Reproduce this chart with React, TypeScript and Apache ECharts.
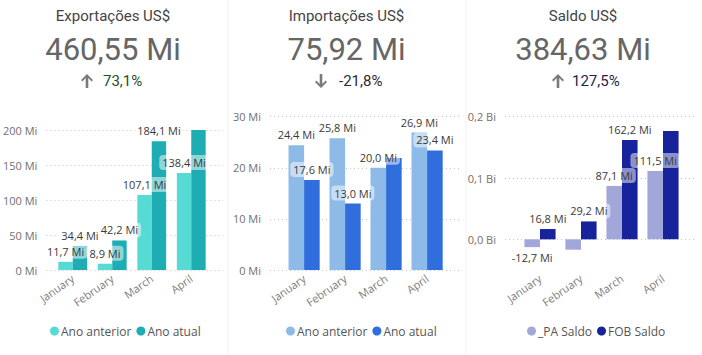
import React, { useEffect, useRef } from 'react';
import * as echarts from 'echarts';

const months = ['January', 'February', 'March', 'April'];

const expPrev = [11.7, 8.9, 107.1, 138.4];
const expCurr = [34.4, 42.2, 184.1, 199.9];
const impPrev = [24.4, 25.8, 20.0, 26.9];
const impCurr = [17.6, 13.0, 21.9, 23.4];
const salPrev = [-12.7, -16.9, 87.1, 111.5];
const salCurr = [16.8, 29.2, 162.2, 176.5];

const expNames = ['Ano anterior', 'Ano atual'];
const impNames = ['Ano anterior', 'Ano atual'];
const salNames = ['_PA Saldo', 'FOB Saldo'];

const kpiTitles = ['Exportações US$', 'Importações US$', 'Saldo US$'];
const kpiValues = ['460,55 Mi', '75,92 Mi', '384,63 Mi'];
const kpiChanges = ['73,1%', '-21,8%', '127,5%'];
const kpiUp = [true, false, true];

// indices of data labels that are not drawn (overlap hidden)
const expHidden = [[], [3]];
const impHidden = [[], [2]];
const salHidden = [[1], [3]];

const fmtMi = (v: number) => v.toFixed(1).replace('.', ',') + ' Mi';

const FONT = "'Open Sans', 'Noto Sans', sans-serif";
const KPI_FONT = "Roboto, 'Noto Sans', sans-serif";

const panels = [
  {
    prev: expPrev, curr: expCurr, names: expNames, hidden: expHidden,
    colors: ['#55DBD3', '#1EADB3'], min: 0, max: 200, interval: 50,
    axisFmt: (v: number) => v + ' Mi',
    outerLeft: 43, outerWidth: 180, barLeft: 53, barWidth: 158, top: 130, bottom: 270,
    gap: '27%', legendLeft: 45, cx: 113, pctColor: '#1d4d2c', arrowX: 87, pctX: 103,
    splitColor: '#c4c4c4',
  },
  {
    prev: impPrev, curr: impCurr, names: impNames, hidden: impHidden,
    colors: ['#8DBAE6', '#2F6EDC'], min: 0, max: 30, interval: 10,
    axisFmt: (v: number) => v + ' Mi',
    outerLeft: 270, outerWidth: 191, barLeft: 283.6, barWidth: 164, top: 116.7, bottom: 270,
    gap: '24%', legendLeft: 281, cx: 346.5, pctColor: '#2a2a38', arrowX: 321, pctX: 339,
    splitColor: '#c4c4c4',
  },
  {
    prev: salPrev, curr: salCurr, names: salNames, hidden: salHidden,
    colors: ['#A2A7DA', '#17239A'], min: -50, max: 200, interval: 50,
    axisFmt: (v: number) => (v % 100 === 0 ? (v / 1000).toFixed(1).replace('.', ',') + ' Bi' : ''),
    outerLeft: 505, outerWidth: 190, barLeft: 519.5, barWidth: 164, top: 116.7, bottom: 270,
    gap: '24%', legendLeft: 522, cx: 583, pctColor: '#1f1f4a', arrowX: 558, pctX: 572,
    splitColor: ['rgba(0,0,0,0)', '#c4c4c4'],
  },
];

function arrowPoints(cx: number, cy: number, up: boolean) {
  const pts = [[0, -7], [6, -1], [4.6, 0.4], [1.3, -2.9], [1.3, 7], [-1.3, 7], [-1.3, -2.9], [-4.6, 0.4], [-6, -1]];
  return pts.map(([x, y]) => [cx + x, cy + (up ? y : -y)]);
}

function buildOption() {
  const grid: any[] = [];
  const xAxis: any[] = [];
  const yAxis: any[] = [];
  const series: any[] = [];
  const legend: any[] = [];
  const graphic: any[] = [];

  panels.forEach((p, i) => {
    const oi = i * 2;
    const bi = i * 2 + 1;
    const height = p.bottom - p.top;
    grid.push({ left: p.outerLeft, width: p.outerWidth, top: p.top, height, containLabel: false });
    grid.push({ left: p.barLeft, width: p.barWidth, top: p.top, height, containLabel: false });

    xAxis.push({ type: 'value', gridIndex: oi, show: false, min: 0, max: 1 });
    xAxis.push({
      type: 'category', gridIndex: bi, data: months,
      axisLine: { show: false, onZero: false }, axisTick: { show: false },
      axisLabel: { rotate: 35, color: '#808080', fontSize: 11, margin: 7, interval: 0, fontFamily: FONT },
    });
    yAxis.push({
      type: 'value', gridIndex: oi, min: p.min, max: p.max, interval: p.interval,
      axisLine: { show: false }, axisTick: { show: false },
      axisLabel: { formatter: p.axisFmt, color: '#707070', fontSize: 11, margin: 9, fontFamily: FONT },
      splitLine: { show: true, lineStyle: { type: [1, 3], color: p.splitColor, width: 1 } },
    });
    yAxis.push({ type: 'value', gridIndex: bi, min: p.min, max: p.max, interval: p.interval, show: false });

    [p.prev, p.curr].forEach((vals, s) => {
      series.push({
        type: 'bar', name: p.names[s], xAxisIndex: bi, yAxisIndex: bi,
        barGap: '0%', barCategoryGap: p.gap,
        itemStyle: { color: p.colors[s] },
        data: vals.map((v, k) => ({
          value: v,
          label: { show: !p.hidden[s].includes(k), position: v < 0 ? 'bottom' : 'top' },
        })),
        label: {
          show: true, formatter: (d: any) => fmtMi(d.value), fontSize: 11, color: '#3a3a3a',
          fontFamily: FONT, backgroundColor: 'rgba(255,255,255,0.5)', borderRadius: 4,
          padding: [2, 3], distance: 3,
        },
      });
    });

    legend.push({
      left: p.legendLeft, top: 320, icon: 'circle', itemWidth: 9, itemHeight: 9, itemGap: 5,
      textStyle: { fontSize: 12, color: '#555', fontFamily: FONT, padding: [0, 0, 0, -3] },
      data: p.names.map((n, s) => ({ name: n, itemStyle: { color: p.colors[s] } })),
    });

    graphic.push({
      type: 'text', x: p.cx, y: 16,
      style: { text: kpiTitles[i], textAlign: 'center', textVerticalAlign: 'middle', font: `15px ${KPI_FONT}`, fill: '#444' },
    });
    graphic.push({
      type: 'text', x: p.cx, y: 49,
      style: { text: kpiValues[i], textAlign: 'center', textVerticalAlign: 'middle', font: `31px ${KPI_FONT}`, fill: '#666' },
    });
    graphic.push({
      type: 'polygon', shape: { points: arrowPoints(p.arrowX, 81, kpiUp[i]) },
      style: { fill: '#7a7a7a' },
    });
    graphic.push({
      type: 'text', x: p.pctX, y: 81,
      style: { text: kpiChanges[i], textAlign: 'left', textVerticalAlign: 'middle', font: `15px ${KPI_FONT}`, fill: p.pctColor },
    });
  });

  graphic.push({ type: 'line', shape: { x1: 228, y1: 0, x2: 228, y2: 355 }, style: { stroke: '#f2f2f2', lineWidth: 1 } });
  graphic.push({ type: 'line', shape: { x1: 466, y1: 0, x2: 466, y2: 355 }, style: { stroke: '#f2f2f2', lineWidth: 1 } });

  return {
    animation: false,
    backgroundColor: '#ffffff',
    textStyle: { fontFamily: FONT },
    grid, xAxis, yAxis, series, legend, graphic,
  };
}

export default function App() {
  const ref = useRef<HTMLDivElement>(null);
  useEffect(() => {
    if (!ref.current) return;
    const chart = echarts.init(ref.current, undefined, { renderer: 'svg' });
    chart.setOption(buildOption() as any);
    return () => chart.dispose();
  }, []);
  return <div ref={ref} style={{ position: 'absolute', left: 0, top: 0, width: 702, height: 355 }} />;
}
